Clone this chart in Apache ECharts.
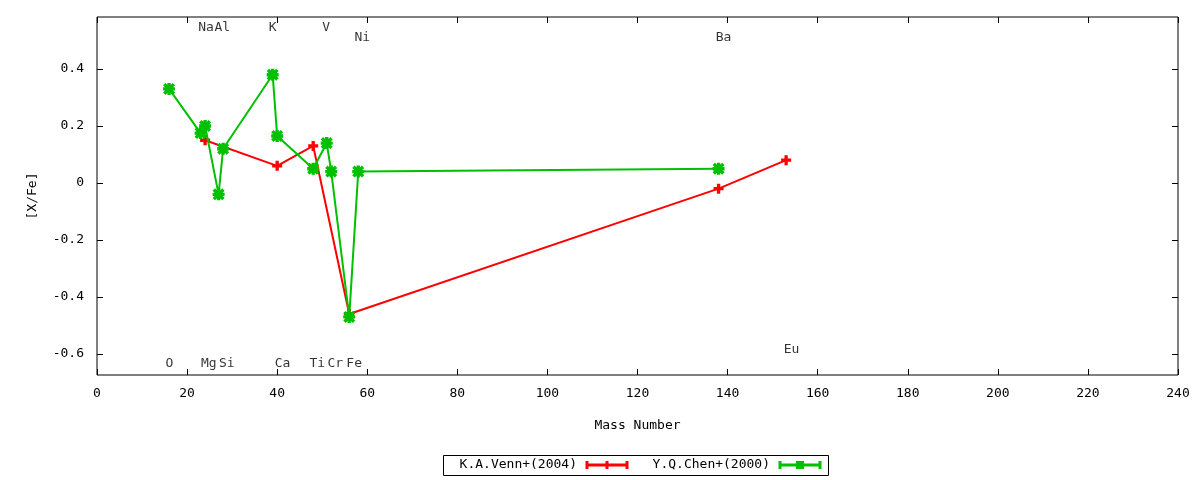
<!DOCTYPE html>
<html>
<head>
<meta charset="utf-8">
<script src="https://cdn.jsdelivr.net/npm/echarts@6/dist/echarts.min.js"></script>
<style>html,body{margin:0;padding:0;background:#fff;}#c{width:1200px;height:480px;}</style>
</head>
<body>
<div id="c"></div>
<script>
// ---- data ----
const vennX = [24, 40, 48, 56, 138, 153];
const vennY = [0.15, 0.06, 0.13, -0.46, -0.02, 0.08];
const chenX = [16, 23, 24, 27, 28, 39, 40, 48, 51, 52, 56, 58, 138];
const chenY = [0.33, 0.175, 0.20, -0.04, 0.12, 0.38, 0.165, 0.05, 0.14, 0.04, -0.47, 0.04, 0.05];
const labelNames = ['Na', 'Al', 'K', 'V', 'Ni', 'Ba', 'O', 'Mg', 'Si', 'Ca', 'Ti', 'Cr', 'Fe', 'Eu'];
const labelX = [24.2, 27.8, 39.0, 50.9, 58.9, 139.1, 16.1, 24.8, 28.8, 41.2, 48.9, 52.9, 57.1, 154.2];
const labelY = [0.545, 0.545, 0.545, 0.545, 0.51, 0.51, -0.634, -0.634, -0.634, -0.634, -0.634, -0.634, -0.634, -0.585];
const xTicks = [0, 20, 40, 60, 80, 100, 120, 140, 160, 180, 200, 220, 240];
const yTicks = [-0.6, -0.4, -0.2, 0, 0.2, 0.4];
const seriesNames = ['K.A.Venn+(2004)', 'Y.Q.Chen+(2000)'];
const xName = 'Mass Number';
const yName = '[X/Fe]';

const FONT = 'DejaVu Sans Mono';
const RED = '#ff0000';
const GREEN = '#00c000';
const plusPath = 'path://M3,0H6V3H9V6H6V9H3V6H0V3H3Z';
const starPath = 'path://M0,2L2,0L5,3L8,0L10,2L7,5L10,8L8,10L5,7L2,10L0,8L3,5ZM3.6,0H6.4V3.6H10V6.4H6.4V10H3.6V6.4H0V3.6H3.6Z';

const chart = echarts.init(document.getElementById('c'), null, {renderer: 'canvas'});

const tickCommon = {show: true, inside: true, length: 6, lineStyle: {color: '#000', width: 1}};

const option = {
  animation: false,
  backgroundColor: '#fff',
  textStyle: {fontFamily: FONT},
  grid: {left: 97, right: 22, top: 17, bottom: 105, show: true, borderColor: '#000', borderWidth: 1, backgroundColor: 'transparent'},
  xAxis: [
    {
      type: 'value', min: 0, max: 240, interval: 20, position: 'bottom',
      name: xName, nameLocation: 'middle', nameGap: 44,
      nameTextStyle: {fontFamily: FONT, fontSize: 13, color: '#000'},
      axisLine: {show: false, onZero: false}, splitLine: {show: false},
      axisTick: tickCommon,
      axisLabel: {fontFamily: FONT, fontSize: 13, color: '#000', margin: 12,
        customValues: xTicks, formatter: v => String(v)}
    },
    {
      type: 'value', min: 0, max: 240, interval: 20, position: 'top',
      axisLine: {show: false, onZero: false}, splitLine: {show: false},
      axisTick: tickCommon, axisLabel: {show: false}
    }
  ],
  yAxis: [
    {
      type: 'value', min: -0.674, max: 0.5825, position: 'left',
      name: yName, nameLocation: 'middle', nameGap: 58, nameRotate: 90,
      nameTextStyle: {fontFamily: FONT, fontSize: 13, color: '#000'},
      axisLine: {show: false, onZero: false}, splitLine: {show: false},
      axisTick: Object.assign({}, tickCommon, {customValues: yTicks}),
      axisLabel: {fontFamily: FONT, fontSize: 13, color: '#000', margin: 13,
        customValues: yTicks, formatter: v => (Math.abs(v) < 1e-9 ? '0' : String(Math.round(v * 10) / 10))}
    },
    {
      type: 'value', min: -0.674, max: 0.5825, position: 'right',
      axisLine: {show: false, onZero: false}, splitLine: {show: false},
      axisTick: Object.assign({}, tickCommon, {customValues: yTicks}),
      axisLabel: {show: false, customValues: yTicks}
    }
  ],
  series: [
    {
      name: seriesNames[0], type: 'line', xAxisIndex: 0, yAxisIndex: 0,
      data: vennX.map((x, i) => [x, vennY[i]]),
      symbol: plusPath, symbolSize: 10, showAllSymbol: true,
      lineStyle: {color: RED, width: 2}, itemStyle: {color: RED},
      z: 2, silent: true
    },
    {
      name: seriesNames[1], type: 'line', xAxisIndex: 0, yAxisIndex: 0,
      data: chenX.map((x, i) => [x, chenY[i]]),
      symbol: starPath, symbolSize: 12, showAllSymbol: true,
      lineStyle: {color: GREEN, width: 2}, itemStyle: {color: GREEN},
      z: 3, silent: true
    },
    {
      name: 'labels', type: 'scatter', xAxisIndex: 0, yAxisIndex: 0,
      data: labelNames.map((n, i) => ({name: n, value: [labelX[i], labelY[i]]})),
      symbolSize: 0, silent: true, z: 4,
      label: {show: true, position: 'inside', formatter: p => p.name,
        fontFamily: FONT, fontSize: 13, color: '#000'}
    }
  ],
  graphic: [
    {type: 'rect', shape: {x: 443.5, y: 455.5, width: 385, height: 20}, style: {fill: 'transparent', stroke: '#000', lineWidth: 1}},
    {type: 'text', x: 577, y: 465, style: {text: seriesNames[0], font: '13px "DejaVu Sans Mono"', fill: '#000', textAlign: 'right', textVerticalAlign: 'middle'}},
    {type: 'line', shape: {x1: 586, y1: 465, x2: 628, y2: 465}, style: {stroke: RED, lineWidth: 3}},
    {type: 'line', shape: {x1: 587, y1: 461, x2: 587, y2: 469}, style: {stroke: RED, lineWidth: 3}},
    {type: 'line', shape: {x1: 627, y1: 461, x2: 627, y2: 469}, style: {stroke: RED, lineWidth: 3}},
    {type: 'line', shape: {x1: 607, y1: 461, x2: 607, y2: 469}, style: {stroke: RED, lineWidth: 3}},
    {type: 'text', x: 770, y: 465, style: {text: seriesNames[1], font: '13px "DejaVu Sans Mono"', fill: '#000', textAlign: 'right', textVerticalAlign: 'middle'}},
    {type: 'line', shape: {x1: 779, y1: 465, x2: 821, y2: 465}, style: {stroke: GREEN, lineWidth: 3}},
    {type: 'line', shape: {x1: 780, y1: 461, x2: 780, y2: 469}, style: {stroke: GREEN, lineWidth: 3}},
    {type: 'line', shape: {x1: 820, y1: 461, x2: 820, y2: 469}, style: {stroke: GREEN, lineWidth: 3}},
    {type: 'rect', shape: {x: 796, y: 461, width: 8, height: 8}, style: {fill: GREEN}}
  ]
};
chart.setOption(option);
</script>
</body>
</html>
